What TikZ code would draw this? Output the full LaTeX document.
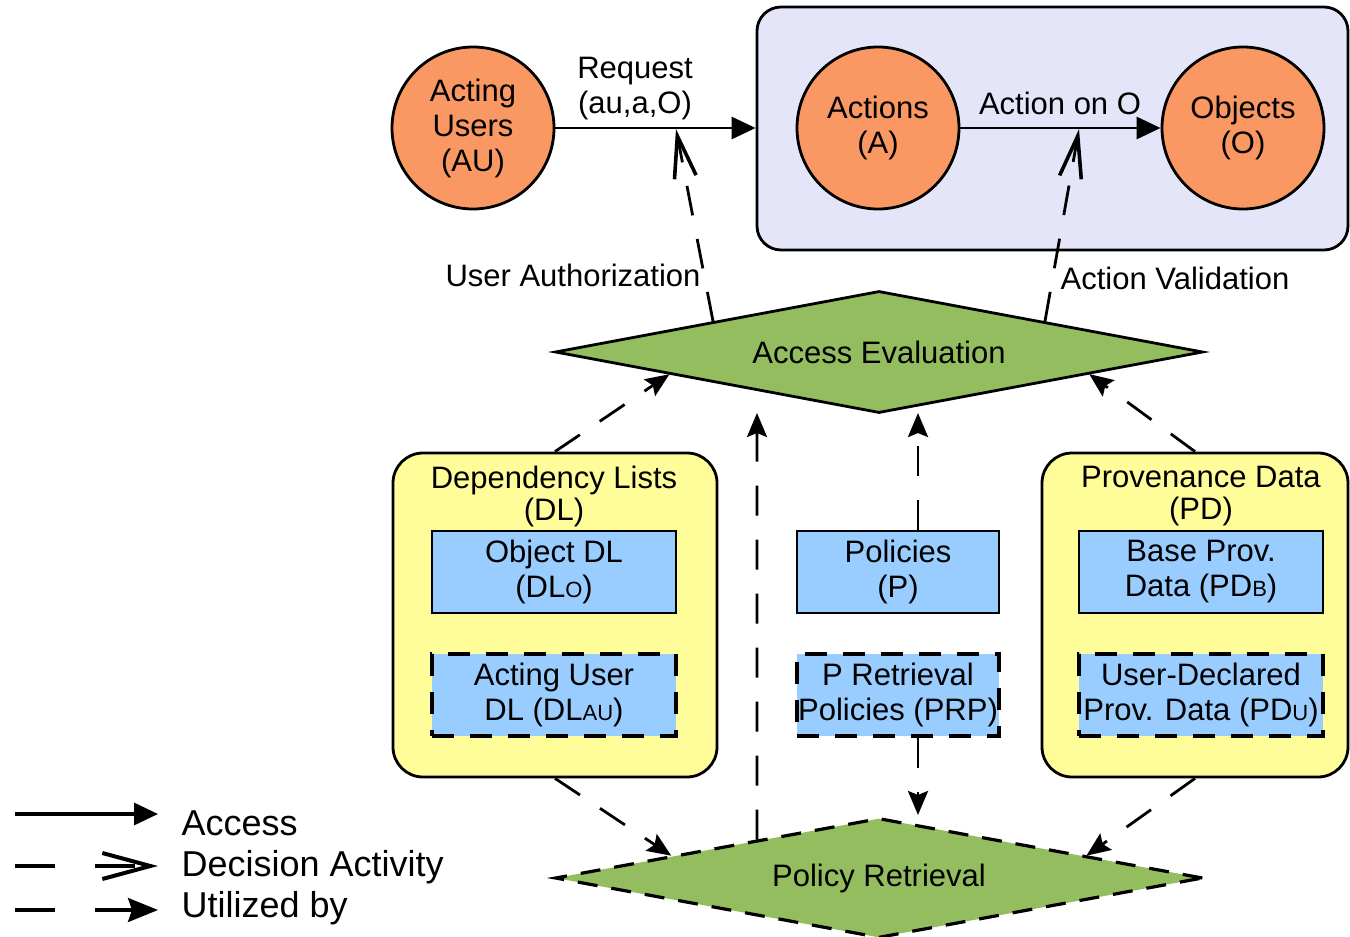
\documentclass[tikz,border=0pt]{standalone}
\usepackage{fontspec}
\setmainfont{Liberation Sans}
\usetikzlibrary{arrows.meta,shapes.geometric,calc}
\definecolor{orangeC}{RGB}{249,152,99}
\definecolor{lavC}{RGB}{229,229,250}
\definecolor{greenC}{RGB}{147,189,94}
\definecolor{yelC}{RGB}{255,253,153}
\definecolor{blueC}{RGB}{153,204,255}
\newcommand\lsub[1]{{\fontsize{11}{11}\selectfont #1}}
\begin{document}
\begin{tikzpicture}[x=0.5pt,y=-0.5pt,
  font=\fontsize{15.5}{17.5}\selectfont,
  line width=1.4pt,
  ent/.style={circle,draw,fill=orangeC,minimum size=81pt,inner sep=0pt,align=center},
  store/.style={draw,fill=blueC,minimum width=122pt,minimum height=41pt,inner sep=0pt,align=center},
  dstore/.style={store,line width=1.8pt,dash pattern=on 11pt off 8pt},
  group/.style={draw,fill=yelC,rounded corners=15pt,inner sep=0pt},
  proc/.style={diamond,aspect=5.31,draw,fill=greenC,minimum width=324pt,minimum height=61pt,inner sep=0pt},
  lbl/.style={align=center,inner sep=1pt},
  access/.style={-{Triangle[length=12pt,width=11pt]}},
  decision/.style={dash pattern=on 15pt off 12pt,-{Straight Barb[length=21pt,width=11pt,line width=1.8pt]}},
  util/.style={dash pattern=on 15pt off 12pt,-{Stealth[length=12pt,width=10pt,inset=2pt]}},
]
\useasboundingbox (0,0) rectangle (1350,937);

% top group
\node[draw,fill=lavC,rounded corners=12pt,minimum width=295.5pt,minimum height=121.5pt,inner sep=0pt] (box) at (1052.5,128.5) {};
\node[ent] (au) at (473,128) {Acting\\Users\\(AU)};
\node[ent] (act) at (878,128) {Actions\\(A)};
\node[ent] (obj) at (1243,128) {Objects\\(O)};

\draw[access] (au) -- (box.west |- au);
\node[lbl] (req) at (635,89) {Request\\(au,a,O)};
\draw[access] (act) -- (obj);
\node[lbl] (aon) at (1060,103) {Action on O};

% access evaluation
\node[proc] (ae) at (879,352) {Access Evaluation};
\node[lbl] (ualbl) at (573,275) {User Authorization};
\node[lbl] (avlbl) at (1175,278) {Action Validation};
\coordinate (uatip) at (676,129);
\coordinate (avtip) at (1079,129);
\draw[decision] ($(ae.west)!0.49!(ae.north)$) -- (uatip);
\draw[decision] ($(ae.north)!0.51!(ae.east)$) -- (avtip);

% dependency lists
\node[group,minimum width=162pt,minimum height=162pt] (dl) at (555,615) {};
\node[lbl] (dltitle) at (554,496) {Dependency Lists\\[-1.5pt](DL)};
\node[store] (dlo) at (554,572) {Object DL\\(DL\lsub{O})};
\node[dstore] (dlau) at (554,695) {Acting User\\DL (DL\lsub{AU})};

% policies
\node[store,minimum width=101pt] (pol) at (898,572) {Policies\\(P)};
\node[dstore,minimum width=101pt] (prp) at (898,695) {P Retrieval\\Policies (PRP)};

% provenance data
\node[group,minimum width=153pt,minimum height=162pt] (pd) at (1195,615) {};
\node[lbl] (pdtitle) at (1201,496) {Provenance Data\\[-1.5pt](PD)};
\node[store] (pdb) at (1201,572) {Base Prov.\\Data (PD\lsub{B})};
\node[dstore] (pdu) at (1201,695) {User-Declared\\Prov. Data (PD\lsub{U})};

% policy retrieval
\node[proc,minimum height=60pt,line width=1.6pt,dash pattern=on 10pt off 7pt] (pr) at (879,878) {Policy Retrieval};

% utilized-by connectors
\draw[util] (dl.north) -- ($(ae.west)!0.356!(ae.south)$);
\draw[util] (pd.north) -- ($(ae.south)!0.646!(ae.east)$);
\coordinate (prtop) at (757,413);
\draw[util] ($(pr.west)!0.625!(pr.north)$) -- (prtop);
\coordinate (poltop) at (918,413);
\draw[util] (pol.north -| poltop) -- (poltop);
\coordinate (prptip) at (918,815);
\draw[util] (prp.south -| prptip) -- (prptip);
\draw[util] (dl.south) -- ($(pr.west)!0.362!(pr.north)$);
\draw[util] (pd.south) -- ($(pr.north)!0.637!(pr.east)$);

% legend
\begin{scope}[font=\fontsize{18}{20}\selectfont,line width=1.6pt]
\coordinate (l1a) at (15,814); \coordinate (l1b) at (158,814);
\coordinate (l2a) at (15,866); \coordinate (l2b) at (158,866);
\coordinate (l3a) at (15,910); \coordinate (l3b) at (158,910);
\draw[access] (l1a) -- (l1b);
\draw[dash pattern=on 20pt off 20pt,-{Straight Barb[length=24pt,width=13pt,line width=2pt]}] (l2a) -- (l2b);
\draw[dash pattern=on 20pt off 20pt,-{Stealth[length=15pt,width=12pt,inset=2pt]}] (l3a) -- (l3b);
\node[anchor=base west,inner sep=0pt] (lg1) at (180,835) {Access};
\node[anchor=base west,inner sep=0pt] (lg2) at (180,876) {Decision Activity};
\node[anchor=base west,inner sep=0pt] (lg3) at (180,917) {Utilized by};
\end{scope}
\end{tikzpicture}
\end{document}
